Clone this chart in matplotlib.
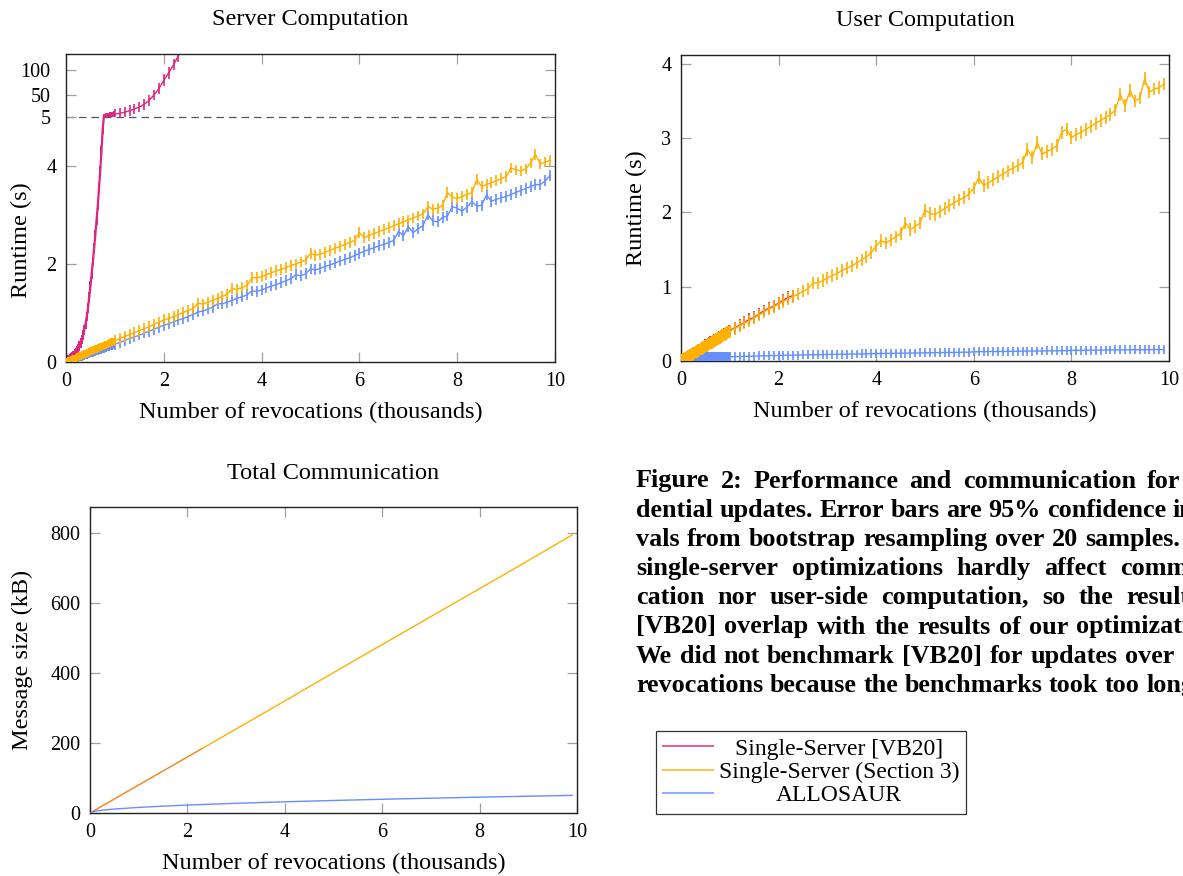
import numpy as np
import matplotlib
matplotlib.use("Agg")
import matplotlib.pyplot as plt
from matplotlib.lines import Line2D

PINK = "#DC267F"
ORANGE = "#FFB000"
BLUE = "#648FFF"

# ---------------- data ----------------
x_dense = np.round(np.arange(0.0, 1.0, 0.025), 3)        # 0 .. 0.975
x_sparse = np.round(np.arange(1.0, 9.95, 0.1), 2)         # 1.0 .. 9.9
x_pink_sparse = np.round(np.arange(1.0, 2.35, 0.1), 2)    # 1.0 .. 2.3

# Server computation (s)
server_pink_dense = [0.01, 0.02, 0.04, 0.06, 0.08, 0.10, 0.13, 0.16, 0.19, 0.23,
                     0.27, 0.33, 0.39, 0.46, 0.55, 0.66, 0.78, 0.93, 1.10, 1.32,
                     1.55, 1.80, 2.05, 2.32, 2.60, 2.90, 3.20, 3.55, 3.90, 4.30,
                     4.75, 5.3, 6.0, 6.6, 7.2, 7.9, 8.6, 9.3, 10.0, 10.6]
server_pink_dense_err_lo = [0.1] * 31 + [0.3, 1.0, 1.6, 2.2, 2.9, 3.6, 4.3, 5.0, 5.6]
server_pink_dense_err_hi = [0.1] * 31 + [6.0] * 9
server_pink_sparse = [11.0, 12.5, 14.8, 17.7, 21.5, 25.5, 31.0, 39.0, 50.0, 63.0,
                      80.0, 95.0, 112.0, 130.0]
server_pink_sparse_err_lo = [5.5, 7.0, 9.0, 11.0, 11.0, 11.0, 11.0, 11.0, 11.0, 11.0,
                             12.0, 12.0, 12.0, 12.0]
server_pink_sparse_err_hi = [11.0] * 10 + [12.0] * 4

server_orange_dense = [0.0, 0.01, 0.02, 0.03, 0.04, 0.05, 0.06, 0.07, 0.09, 0.10,
                       0.11, 0.12, 0.13, 0.14, 0.15, 0.16, 0.17, 0.18, 0.19, 0.20,
                       0.22, 0.23, 0.24, 0.25, 0.26, 0.27, 0.28, 0.29, 0.30, 0.31,
                       0.32, 0.33, 0.34, 0.35, 0.37, 0.38, 0.39, 0.40, 0.41, 0.42]
server_orange_sparse = [0.44, 0.48, 0.52, 0.56, 0.60, 0.64, 0.68, 0.72, 0.77, 0.81,
                        0.86, 0.89, 0.93, 0.97, 1.01, 1.05, 1.09, 1.20, 1.18, 1.22,
                        1.26, 1.30, 1.34, 1.38, 1.50, 1.48, 1.52, 1.56, 1.72, 1.72,
                        1.74, 1.78, 1.82, 1.86, 1.89, 1.93, 1.97, 2.00, 2.04, 2.08,
                        2.22, 2.18, 2.20, 2.24, 2.28, 2.32, 2.36, 2.40, 2.44, 2.48,
                        2.64, 2.54, 2.58, 2.62, 2.66, 2.70, 2.74, 2.78, 2.82, 2.86,
                        2.90, 2.94, 2.98, 3.02, 3.17, 3.12, 3.14, 3.20, 3.46, 3.36,
                        3.34, 3.38, 3.42, 3.46, 3.72, 3.58, 3.62, 3.66, 3.70, 3.74,
                        3.78, 3.96, 3.92, 3.90, 3.94, 4.06, 4.24, 4.04, 4.08, 4.12]
server_blue_dense = [0.0, 0.01, 0.02, 0.03, 0.04, 0.04, 0.05, 0.06, 0.07, 0.08,
                     0.09, 0.10, 0.11, 0.11, 0.12, 0.13, 0.14, 0.15, 0.16, 0.17,
                     0.18, 0.18, 0.19, 0.20, 0.21, 0.22, 0.23, 0.24, 0.25, 0.25,
                     0.26, 0.27, 0.28, 0.29, 0.30, 0.31, 0.32, 0.32, 0.33, 0.34]
server_blue_sparse = [0.36, 0.40, 0.44, 0.48, 0.51, 0.55, 0.59, 0.63, 0.67, 0.71,
                      0.75, 0.78, 0.82, 0.86, 0.89, 0.93, 0.97, 1.02, 1.04, 1.08,
                      1.12, 1.19, 1.19, 1.22, 1.26, 1.30, 1.33, 1.37, 1.45, 1.44,
                      1.47, 1.51, 1.55, 1.58, 1.62, 1.66, 1.70, 1.78, 1.76, 1.80,
                      1.90, 1.88, 1.91, 1.95, 1.98, 2.02, 2.06, 2.09, 2.13, 2.17,
                      2.22, 2.26, 2.30, 2.33, 2.37, 2.40, 2.44, 2.48, 2.66, 2.58,
                      2.76, 2.64, 2.72, 2.78, 3.00, 2.88, 2.86, 2.95, 2.98, 3.17,
                      3.14, 3.08, 3.16, 3.27, 3.18, 3.20, 3.41, 3.28, 3.32, 3.35,
                      3.38, 3.42, 3.46, 3.50, 3.54, 3.58, 3.62, 3.62, 3.70, 3.80]
server_err_dense = 0.08
server_err_sparse = 0.11

# User computation (s)
user_pink_dense = [0.0, 0.01, 0.02, 0.03, 0.04, 0.05, 0.06, 0.07, 0.08, 0.09,
                   0.10, 0.11, 0.12, 0.13, 0.14, 0.15, 0.16, 0.17, 0.18, 0.19,
                   0.21, 0.22, 0.23, 0.24, 0.25, 0.26, 0.27, 0.28, 0.29, 0.30,
                   0.31, 0.32, 0.33, 0.34, 0.35, 0.36, 0.37, 0.38, 0.39, 0.40]
user_pink_sparse = [0.41, 0.45, 0.48, 0.52, 0.56, 0.59, 0.63, 0.68, 0.71, 0.74,
                    0.78, 0.82, 0.86, 0.88]
user_orange_dense = [0.0, 0.01, 0.02, 0.03, 0.04, 0.05, 0.06, 0.07, 0.08, 0.09,
                     0.10, 0.11, 0.12, 0.13, 0.14, 0.15, 0.16, 0.17, 0.18, 0.19,
                     0.20, 0.21, 0.22, 0.23, 0.24, 0.25, 0.26, 0.27, 0.28, 0.29,
                     0.30, 0.31, 0.32, 0.33, 0.34, 0.35, 0.36, 0.37, 0.38, 0.39]
user_orange_sparse = [0.40, 0.44, 0.47, 0.51, 0.54, 0.58, 0.62, 0.66, 0.70, 0.73,
                      0.77, 0.80, 0.84, 0.87, 0.90, 0.94, 0.97, 1.05, 1.05, 1.08,
                      1.12, 1.15, 1.18, 1.22, 1.25, 1.28, 1.32, 1.36, 1.40, 1.46,
                      1.55, 1.62, 1.59, 1.63, 1.67, 1.72, 1.86, 1.77, 1.81, 1.86,
                      2.03, 1.99, 1.97, 2.01, 2.05, 2.09, 2.13, 2.17, 2.20, 2.25,
                      2.33, 2.47, 2.36, 2.40, 2.44, 2.48, 2.52, 2.56, 2.60, 2.63,
                      2.67, 2.85, 2.74, 2.94, 2.79, 2.82, 2.85, 2.90, 3.08, 3.12,
                      3.01, 3.05, 3.08, 3.12, 3.16, 3.20, 3.24, 3.28, 3.32, 3.38,
                      3.59, 3.44, 3.64, 3.50, 3.54, 3.80, 3.62, 3.66, 3.68, 3.73]
user_blue_dense = [0.02, 0.03, 0.04, 0.05, 0.05] + [0.06] * 35
user_blue_sparse = [0.055, 0.058, 0.060, 0.062, 0.064, 0.066, 0.068, 0.070, 0.072, 0.073,
                    0.075, 0.076, 0.078, 0.079, 0.080, 0.082, 0.083, 0.084, 0.085, 0.086,
                    0.088, 0.089, 0.090, 0.091, 0.092, 0.093, 0.094, 0.095, 0.096, 0.097,
                    0.100, 0.101, 0.102, 0.103, 0.104, 0.105, 0.106, 0.107, 0.108, 0.109,
                    0.110, 0.111, 0.112, 0.113, 0.114, 0.115, 0.116, 0.117, 0.118, 0.119,
                    0.124, 0.125, 0.126, 0.127, 0.128, 0.128, 0.129, 0.130, 0.131, 0.131,
                    0.133, 0.133, 0.134, 0.135, 0.135, 0.136, 0.137, 0.137, 0.138, 0.139,
                    0.143, 0.144, 0.144, 0.145, 0.146, 0.146, 0.147, 0.148, 0.148, 0.149,
                    0.150, 0.150, 0.151, 0.152, 0.152, 0.153, 0.153, 0.154, 0.155, 0.155]
user_err_pink = 0.08
user_err_orange = 0.085
user_err_blue_dense = 0.065
user_err_blue_sparse = 0.06

# Total communication (kB)
comm_x_orange = [0, 0.5, 1, 2, 3, 4, 5, 6, 7, 8, 9, 9.9]
comm_orange = [0, 40, 80, 160, 240, 320, 401, 481, 561, 641, 721, 794]
comm_x_pink = [0, 0.5, 1, 1.5, 2, 2.3]
comm_pink = [0, 40, 80, 120, 160, 184]
comm_x_blue = [0, 0.1, 0.25, 0.5, 1, 1.5, 2, 3, 4, 5, 6, 7, 8, 9, 9.9]
comm_blue = [0, 5.1, 8.0, 11.3, 16, 19.6, 22.6, 27.7, 32, 35.8, 39.2, 42.3, 45.3, 48, 50.3]

server_yticks = [0, 2, 4, 5, 50, 100]
labels = ["Single-Server [VB20]", "Single-Server (Section 3)", "ALLOSAUR"]

caption_lines = [
    "Figure 2: Performance and communication for cre-",
    "dential updates. Error bars are 95% confidence inter-",
    "vals from bootstrap resampling over 20 samples. Our",
    "single-server optimizations hardly affect communi-",
    "cation nor user-side computation, so the results of",
    "[VB20] overlap with the results of our optimizations.",
    "We did not benchmark [VB20] for updates over 2000",
    "revocations because the benchmarks took too long.",
]

# ---------------- style ----------------
SERIF = ["Liberation Serif", "DejaVu Serif"]
plt.rcParams["font.family"] = SERIF
FS_LABEL = 17.5
FS_TICK = 14.5

W, H = 1183, 876
fig = plt.figure(figsize=(W / 100, H / 100), dpi=100)


def px_axes(l, t, r, b):
    return fig.add_axes([l / W, 1 - b / H, (r - l) / W, (b - t) / H])


def style_axes(ax):
    for s in ax.spines.values():
        s.set_color("#222222")
        s.set_linewidth(1.0)
    ax.tick_params(direction="in", length=7.2, width=0.9, color="#a0a0a0",
                   top=True, right=True, labelsize=FS_TICK, pad=7)


def eb(ax, x, y, err, color, z, lw=1.0, elw=1.2):
    ax.errorbar(x, y, yerr=err, color=color, lw=lw, elinewidth=elw,
                capsize=0, zorder=z)


# ---- Server computation ----
def fwd(y):
    y = np.asarray(y, dtype=float)
    return np.where(y <= 5, y, 5 + (y - 5) / 100.0)


def inv(t):
    t = np.asarray(t, dtype=float)
    return np.where(t <= 5, t, 5 + (t - 5) * 100.0)


ax1 = px_axes(66, 54, 555, 362)
ax1.set_yscale("function", functions=(fwd, inv))
eb(ax1, x_dense, server_pink_dense,
   [server_pink_dense_err_lo, server_pink_dense_err_hi], PINK, 2, lw=1.6, elw=1.4)
eb(ax1, x_pink_sparse, server_pink_sparse,
   [server_pink_sparse_err_lo, server_pink_sparse_err_hi], PINK, 2)
eb(ax1, x_dense, server_blue_dense, server_err_dense, BLUE, 3, elw=1.4)
eb(ax1, x_sparse, server_blue_sparse, server_err_sparse, BLUE, 3)
eb(ax1, x_dense, server_orange_dense, server_err_dense, ORANGE, 4, elw=1.6)
eb(ax1, x_sparse, server_orange_sparse, server_err_sparse, ORANGE, 4)
ax1.axhline(5, color="#555555", lw=0.9, dashes=(6, 4), zorder=1)
ax1.set_xlim(0, 10)
ax1.set_ylim(0, 133.6)
ax1.set_yticks(server_yticks)
ax1.set_yticklabels([str(v) for v in server_yticks])
ax1.set_xticks([0, 2, 4, 6, 8, 10])
style_axes(ax1)
for tk, v in zip(ax1.yaxis.get_major_ticks(), server_yticks):
    if v >= 5:
        tk.set_pad(11)
ax1.set_title("Server Computation", fontsize=FS_LABEL, pad=21)
ax1.set_xlabel("Number of revocations (thousands)", fontsize=FS_LABEL, labelpad=8)
ax1.set_ylabel("Runtime (s)", fontsize=FS_LABEL)
ax1.yaxis.set_label_coords(-0.070, 0.396)

# ---- User computation ----
ax2 = px_axes(681, 55, 1169, 361)
eb(ax2, x_dense, user_pink_dense, user_err_pink, PINK, 2, elw=1.4)
eb(ax2, x_pink_sparse, user_pink_sparse, user_err_pink, PINK, 2)
eb(ax2, x_dense, user_blue_dense, user_err_blue_dense, BLUE, 3, elw=1.6)
eb(ax2, x_sparse, user_blue_sparse, user_err_blue_sparse, BLUE, 3)
eb(ax2, x_dense, user_orange_dense, user_err_orange, ORANGE, 4, elw=1.6)
eb(ax2, x_sparse, user_orange_sparse, user_err_orange, ORANGE, 4)
ax2.set_xlim(0, 10)
ax2.set_ylim(0, 4.12)
ax2.set_yticks([0, 1, 2, 3, 4])
ax2.set_xticks([0, 2, 4, 6, 8, 10])
style_axes(ax2)
ax2.set_title("User Computation", fontsize=FS_LABEL, pad=21)
ax2.set_xlabel("Number of revocations (thousands)", fontsize=FS_LABEL, labelpad=8)
ax2.set_ylabel("Runtime (s)", fontsize=FS_LABEL)
ax2.yaxis.set_label_coords(-0.070, 0.5)

# ---- Total communication ----
ax3 = px_axes(90, 507, 577, 813)
ax3.plot(comm_x_orange, comm_orange, color=ORANGE, lw=1.0, zorder=3)
ax3.plot(comm_x_pink, comm_pink, color=PINK, lw=1.0, alpha=0.3, zorder=4)
ax3.plot(comm_x_blue, comm_blue, color=BLUE, lw=1.0, zorder=3)
ax3.set_xlim(0, 10)
ax3.set_ylim(0, 874)
ax3.set_yticks([0, 200, 400, 600, 800])
ax3.set_xticks([0, 2, 4, 6, 8, 10])
style_axes(ax3)
ax3.set_title("Total Communication", fontsize=FS_LABEL, pad=20)
ax3.set_xlabel("Number of revocations (thousands)", fontsize=FS_LABEL, labelpad=8)
ax3.set_ylabel("Message size (kB)", fontsize=FS_LABEL)
ax3.yaxis.set_label_coords(-0.117, 0.5)

# ---- Legend ----
handles = [Line2D([], [], color=c, lw=1.4, alpha=0.75) for c in (PINK, ORANGE, BLUE)]
leg = fig.legend(handles, labels, loc="upper left",
                 bbox_to_anchor=(656 / W, 1 - 731 / H),
                 frameon=True, fancybox=False, edgecolor="#333333",
                 framealpha=1, fontsize=17, handlelength=2.1,
                 handletextpad=0.25, labelspacing=0.08, borderpad=0.3,
                 borderaxespad=0)
leg.get_frame().set_linewidth(0.9)

# ---- Caption (justified, cropped at the right edge like the reference) ----
fig.canvas.draw()
renderer = fig.canvas.get_renderer()

# centre legend texts in their column
tw = [t.get_window_extent(renderer).width for t in leg.get_texts()]
mw = max(tw)
for t, w in zip(leg.get_texts(), tw):
    t.set_position(((mw - w) / 2.0, 0))

CAP_X0 = 636
CAP_W = 598
CAP_Y0 = 481
CAP_DY = 29.2
cap_kw = dict(fontsize=18.8, fontweight="bold", va="center", ha="left")
n = len(caption_lines)
for i, line in enumerate(caption_lines):
    yy = 1 - (CAP_Y0 + i * CAP_DY) / H
    words = line.split(" ")
    texts = [fig.text(0, yy, wd, **cap_kw) for wd in words]
    widths = [t.get_window_extent(renderer).width for t in texts]
    if i == n - 1:
        space = fig.text(0, yy, "a a", **cap_kw)
        sw = space.get_window_extent(renderer).width
        aw = fig.text(0, yy, "aa", **cap_kw).get_window_extent(renderer).width
        fig.texts = fig.texts[:-2]
        gap = sw - aw
    else:
        gap = (CAP_W - sum(widths)) / (len(words) - 1)
    xpos = CAP_X0
    for t, wdt in zip(texts, widths):
        if xpos >= W - 1:
            t.remove()          # wholly outside the visible page
        else:
            t.set_x(xpos / W)
        xpos += wdt + gap

fig.savefig("out.png", dpi=100)
